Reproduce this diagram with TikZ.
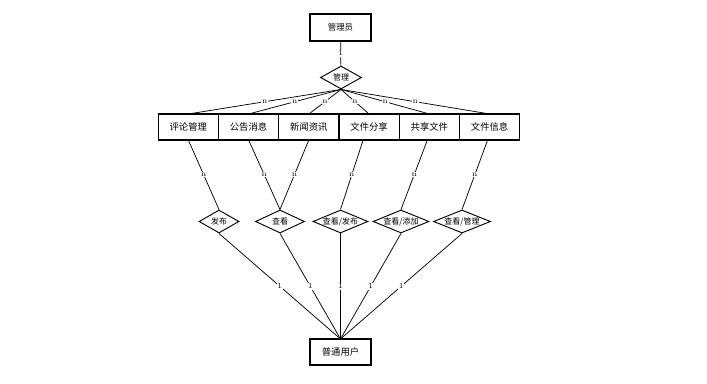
\documentclass[tikz,border=0pt]{standalone}
\usepackage{fontspec}
\newfontfamily\cjk{Noto Sans CJK SC}
\usetikzlibrary{positioning,shapes.geometric}
\tikzset{
  ent/.style={draw, line width=0.8pt, minimum width=45.2pt, minimum height=19.5pt, inner sep=1pt, outer sep=0pt, font=\cjk\fontsize{7}{8}\selectfont},
  rel/.style={draw, diamond, line width=0.7pt, inner sep=0pt, minimum height=17.25pt, label={[font=\cjk\fontsize{6}{7}\selectfont]center:#1}},
  crd/.style={fill=white, inner sep=0.6pt, font=\fontsize{5.8}{6}\selectfont},
  lnk/.style={line width=0.55pt}}

\begin{document}
\begin{tikzpicture}[x=0.75pt, y=-0.75pt, node distance=0pt]
\useasboundingbox[fill=white] (0,0) rectangle (707,384);
\node[ent, minimum width=45.75pt, minimum height=20.25pt, font=\cjk\fontsize{6.3}{7}\selectfont] (adm) at (340.5,27.5) {管理员};
\node[rel=管理, minimum width=30.75pt] (mg) at (341,77.5) {};
\node[ent] (pl) at (188.3,127) {评论管理};
\node[ent, right=of pl] (gg) {公告消息};
\node[ent, right=of gg] (xw) {新闻资讯};
\node[ent, right=of xw] (fx) {文件分享};
\node[ent, right=of fx] (gx) {共享文件};
\node[ent, right=of gx] (wj) {文件信息};
\node[rel=发布, minimum width=30pt] (fb) at (219,221.5) {};
\node[rel=查看, minimum width=36.75pt] (ck) at (280,221.5) {};
\node[rel=查看/发布, minimum width=41.25pt] (ckfb) at (340.5,221.5) {};
\node[rel=查看/添加, minimum width=42pt] (cktj) at (401,221.5) {};
\node[rel=查看/管理, minimum width=42.75pt] (ckgl) at (462,221.5) {};
\node[ent, minimum width=45.75pt] (usr) at (340.5,352) {普通用户};
% 管理员 -- 管理 -- 各类信息
\draw[lnk] (adm) -- node[crd] {1} (mg);
\draw[lnk] (mg.south) -- node[crd] {n} (pl.north);
\draw[lnk] (mg.south) -- node[crd] {n} (gg.north);
\draw[lnk] (mg.south) -- node[crd] {n} (xw.north);
\draw[lnk] (mg.south) -- node[crd] {n} (fx.north);
\draw[lnk] (mg.south) -- node[crd] {n} (gx.north);
\draw[lnk] (mg.south) -- node[crd] {n} (wj.north);
% 各类信息 -- 普通用户的操作
\draw[lnk] (pl.south) -- node[crd] {n} (fb.north);
\draw[lnk] (gg.south) -- node[crd] {n} (ck.north);
\draw[lnk] (xw.south) -- node[crd] {n} (ck.north);
\draw[lnk] ([xshift=-4.5pt]fx.south) -- node[crd] {n} (ckfb.north);
\draw[lnk] ([xshift=-1.5pt]gx.south) -- node[crd] {n} (cktj.north);
\draw[lnk] ([xshift=-1.5pt]wj.south) -- node[crd] {n} (ckgl.north);
% 操作 -- 普通用户
\draw[lnk] (fb.south) -- node[crd] {1} (usr.north);
\draw[lnk] (ck.south) -- node[crd] {1} (usr.north);
\draw[lnk] (ckfb.south) -- node[crd] {1} (usr.north);
\draw[lnk] (cktj.south) -- node[crd] {1} (usr.north);
\draw[lnk] (ckgl.south) -- node[crd] {1} (usr.north);
\end{tikzpicture}
\end{document}
